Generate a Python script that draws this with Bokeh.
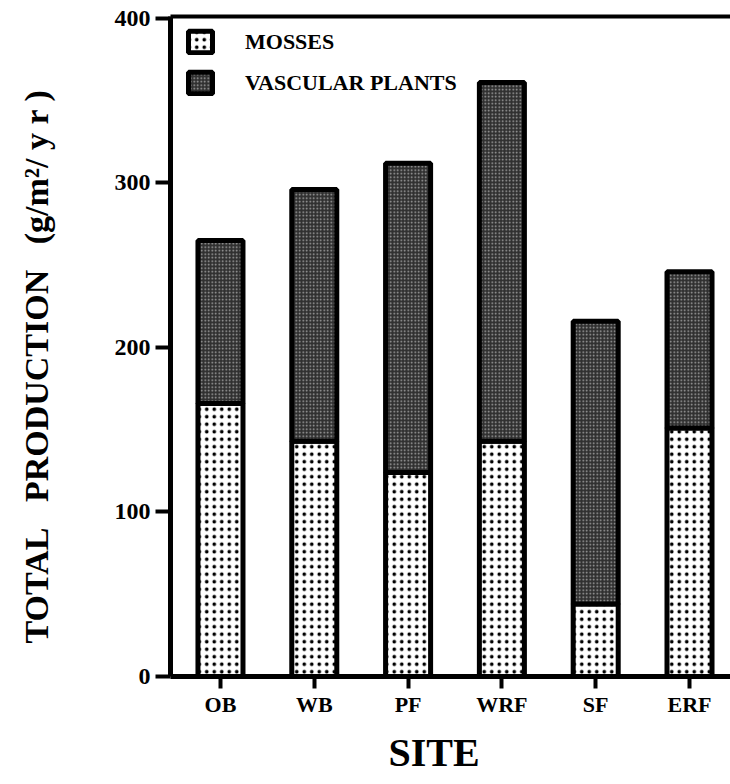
from bokeh.plotting import figure
from bokeh.models import (ColumnDataSource, Range1d, FixedTicker, LinearAxis,
                          Label, Legend, LegendItem)
from bokeh.embed import file_html
from bokeh.resources import INLINE

# Annual production per site, g/m^2/yr
sites = ["OB", "WB", "PF", "WRF", "SF", "ERF"]
mosses = [166, 143, 124, 143, 44, 151]
vascular_plants = [99, 153, 188, 218, 172, 95]
y_ticks = [0, 100, 200, 300, 400]

positions = list(range(1, len(sites) + 1))
totals = [m + v for m, v in zip(mosses, vascular_plants)]

source = ColumnDataSource(dict(x=positions, mosses=mosses,
                               vascular=vascular_plants, total=totals))

SERIF = "Liberation Serif"
W, H = 730, 784

# The frame fills the whole canvas; axes sit at fixed data locations so the
# titles can be placed freely in the margins around them.
X_LEFT, X_END = 0.467, 6.437      # left spine / right edge (site index units)
Y_TOP = 401                       # top frame line
x_range = Range1d(-1.345, X_END)
y_range = Range1d(-65.65, 410.9)

p = figure(width=W, height=H, output_backend="svg", toolbar_location=None,
           x_range=x_range, y_range=y_range, min_border=0,
           outline_line_color=None, background_fill_color="white",
           border_fill_color="white")
p.xgrid.visible = False
p.ygrid.visible = False

common = dict(x="x", width=0.48, source=source, line_color="black",
              line_width=5)
r_moss = p.vbar(bottom=0, top="mosses", fill_color="white",
                hatch_pattern="dot", hatch_color="black", hatch_scale=7.5,
                hatch_weight=3, **common)
r_vasc = p.vbar(bottom="mosses", top="total", fill_color="#303030",
                hatch_pattern="dot", hatch_color="#a8a8a8", hatch_scale=3.5,
                **common)

# axes
for ax in (p.xaxis[0], p.yaxis[0]):
    ax.axis_line_width = 5
    ax.major_tick_line_width = 4
    ax.major_tick_in = 0
    ax.minor_tick_line_color = None
    ax.major_label_text_font = SERIF
    ax.major_label_text_font_style = "bold"
    ax.major_label_text_color = "black"

p.yaxis.fixed_location = X_LEFT
p.yaxis.bounds = (0, Y_TOP)
p.yaxis.ticker = FixedTicker(ticks=y_ticks)
p.yaxis.major_tick_out = 15
p.yaxis.major_label_standoff = 5
p.yaxis.major_label_text_font_size = "24px"

p.xaxis.fixed_location = 0
p.xaxis.bounds = (X_LEFT, X_END)
p.xaxis.ticker = FixedTicker(ticks=positions)
p.xaxis.major_label_overrides = {x: s for x, s in zip(positions, sites)}
p.xaxis.major_tick_out = 12
p.xaxis.major_label_standoff = 4
p.xaxis.major_label_text_font_size = "22px"

# frame line along the top
top = LinearAxis(fixed_location=Y_TOP, bounds=(X_LEFT, X_END),
                 ticker=FixedTicker(ticks=[]), axis_line_width=4,
                 major_tick_line_color=None, minor_tick_line_color=None,
                 major_label_text_font_size="0px")
p.add_layout(top, "above")

# axis titles (screen pixels from the bottom-left corner)
NB = "\u00a0"
p.add_layout(Label(x=36, y=H - 643, x_units="screen", y_units="screen",
                   text=f"TOTAL{NB*3}PRODUCTION{NB*3}(g/m²/ y r )",
                   angle=90, angle_units="deg", text_font=SERIF,
                   text_font_style="bold", text_font_size="34px",
                   text_color="black", text_align="left",
                   text_baseline="alphabetic"))
p.add_layout(Label(x=388, y=H - 752, x_units="screen", y_units="screen",
                   text="SITE", text_font=SERIF, text_font_style="bold",
                   text_font_size="40px", text_color="black",
                   text_align="left", text_baseline="alphabetic"))

legend = Legend(items=[LegendItem(label="MOSSES", renderers=[r_moss]),
                       LegendItem(label="VASCULAR PLANTS", renderers=[r_vasc])],
                location=(185, H - 96), margin=0, padding=0, spacing=14,
                glyph_width=30, glyph_height=27, label_standoff=30,
                label_text_font=SERIF, label_text_font_style="bold",
                label_text_font_size="22px", label_text_color="black",
                border_line_color=None, background_fill_alpha=0)
p.add_layout(legend)

open("out.html", "w").write(file_html(p, INLINE))
